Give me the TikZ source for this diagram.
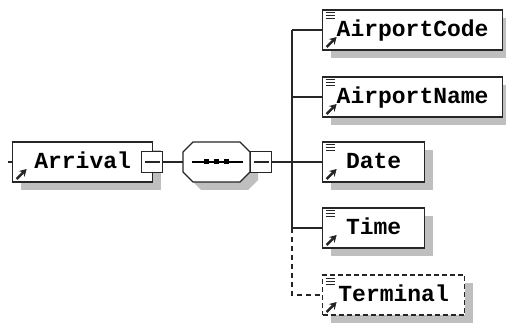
\documentclass[tikz,border=0pt]{standalone}
\usepackage{fontspec}
\newfontfamily\elemfont{Liberation Mono}
\usetikzlibrary{positioning,arrows.meta,shadows}
\newcommand\elemarrow{\draw[line width=2.4pt, solid, -{Stealth[length=7pt, width=8pt]}]
  ([shift={(4,-3)}]path picture bounding box.south west) -- ++(10,-10);}
\newcommand\elemlines{\foreach \dy in {3,6,9}
  \draw[line width=1pt, solid] ([shift={(3,\dy)}]path picture bounding box.north west) -- ++(9,0);}

\begin{document}
\begin{tikzpicture}[x=1pt, y=-1pt,
  elembox/.style={draw=black!85, line width=1.3pt, fill=white, anchor=west,
    minimum height=40pt, inner ysep=0pt, inner xsep=14pt, align=left,
    text height=13.5pt, text depth=0pt,
    font=\elemfont\bfseries\fontsize{23}{23}\selectfont,
    drop shadow={shadow xshift=8pt, shadow yshift=-8pt, fill=black!25, opacity=1},
    path picture={\elemarrow}},
  childbox/.style={elembox, path picture={\elemarrow\elemlines}},
  optbox/.style={childbox, dash pattern=on 5pt off 3pt},
  seqbox/.style={inner sep=0pt, minimum width=67pt, minimum height=40pt},
  octagon/.pic={\path[pic actions] (-33.5,-10) -- (-23.5,-20) -- (23.5,-20) -- (33.5,-10)
    -- (33.5,10) -- (23.5,20) -- (-23.5,20) -- (-33.5,10) -- cycle;},
  collapse/.style={draw=black!85, line width=1.2pt, fill=white, minimum size=21pt, inner sep=0pt,
    path picture={\draw[line width=1.2pt] ([xshift=3pt]path picture bounding box.west)
      -- ([xshift=-3pt]path picture bounding box.east);}},
  link/.style={draw=black!85, line width=1.3pt},
]
\useasboundingbox (0,0) rectangle (506,323);

% ===================================================================
% Root element and sequence compositor
% ===================================================================
\coordinate (arrin) at (8,162);
\node[elembox, minimum width=140pt] (arrival) at (12,162) {Arrival};
\draw[link] (arrin) -- (arrival.west);

\pic[fill=black!25] at (224.5,170) {octagon};
\pic[draw=black!85, line width=1.3pt, fill=white] at (216.5,162) {octagon};
\node[seqbox] (seq) at (216.5,162) {};

% dots of the sequence
\draw[line width=1.2pt] ([xshift=-25pt]seq.center) -- ([xshift=26pt]seq.center);
\foreach \dx in {-10,0,10}
  \fill ([xshift=\dx pt]seq.center) +(-2.5,-2.5) rectangle +(2.5,2.5);

% collapse boxes
\node[collapse] (arrm) at ([xshift=-1pt]arrival.east) {};
\node[collapse, anchor=west] (seqm) at (seq.east) {};
\draw[link] (arrm.east) -- (seq.west);

% ===================================================================
% Child elements
% ===================================================================
\node[childbox, minimum width=180pt] (code) at (322,30) {AirportCode};
\node[childbox, minimum width=180pt] (name) at (322,97) {AirportName};
\node[childbox, minimum width=102pt] (date) at (322,162) {Date};
\node[childbox, minimum width=102pt] (time) at (322,228) {Time};
\node[optbox, minimum width=142pt] (term) at (322,295) {Terminal};

% trunk and branches
\coordinate (trunk) at (292,162);
\draw[link] (seqm.east) -- (trunk);
\draw[link] (trunk|-code.west) -- (trunk|-time.west);
\foreach \c in {code,name,date,time}
  \draw[link] (trunk|-\c.west) -- (\c.west);
\draw[link, dash pattern=on 5pt off 4pt] (trunk|-time.west) |- (term.west);

\end{tikzpicture}
\end{document}
